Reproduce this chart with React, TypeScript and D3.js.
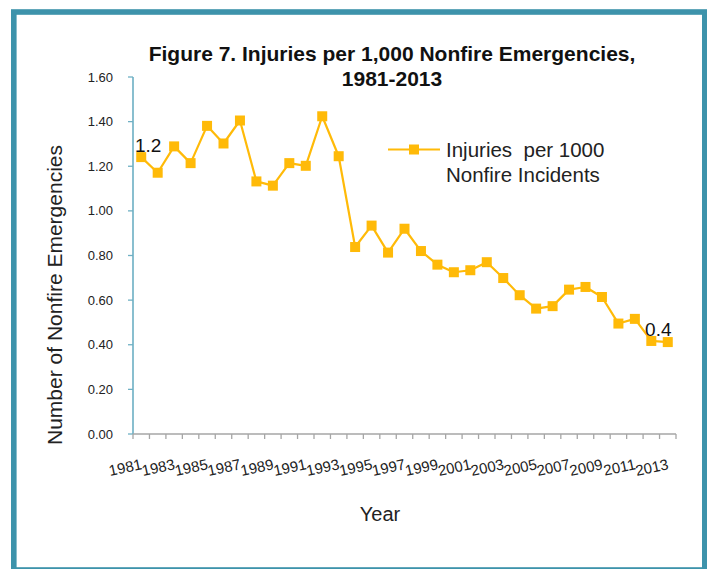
import React from "react";
import * as d3 from "d3";

const years: number[] = [
  1981, 1982, 1983, 1984, 1985, 1986, 1987, 1988, 1989, 1990, 1991, 1992, 1993,
  1994, 1995, 1996, 1997, 1998, 1999, 2000, 2001, 2002, 2003, 2004, 2005, 2006,
  2007, 2008, 2009, 2010, 2011, 2012, 2013,
];
const injuries: number[] = [
  1.241, 1.171, 1.289, 1.214, 1.381, 1.302, 1.405, 1.132, 1.113, 1.214, 1.202,
  1.424, 1.245, 0.838, 0.934, 0.813, 0.92, 0.82, 0.759, 0.725, 0.734, 0.77,
  0.699, 0.622, 0.562, 0.573, 0.647, 0.659, 0.614, 0.495, 0.516, 0.417, 0.412,
];
const yTicks: number[] = [0, 0.2, 0.4, 0.6, 0.8, 1.0, 1.2, 1.4, 1.6];
const labeledYears: number[] = [
  1981, 1983, 1985, 1987, 1989, 1991, 1993, 1995, 1997, 1999, 2001, 2003, 2005,
  2007, 2009, 2011, 2013,
];
const dataLabels: { year: number; text: string }[] = [
  { year: 1981, text: "1.2" },
  { year: 2012, text: "0.4" },
];
const titleLines = ["Figure 7. Injuries per 1,000 Nonfire Emergencies,", "1981-2013"];
const legendLines = ["Injuries  per 1000", "Nonfire Incidents"];

const FONT = "'Liberation Sans', Arial, sans-serif";
const GOLD = "#FFBA08";
const TEAL = "#3d93ab";

export default function App() {
  const W = 707;
  const H = 569;
  const left = 133;
  const right = 676;
  const top = 77;
  const bottom = 434;

  const x = d3.scaleBand<number>().domain(years).range([left, right]);
  const y = d3.scaleLinear().domain([0, 1.6]).range([bottom, top]);
  const cx = (yr: number) => (x(yr) as number) + x.bandwidth() / 2;

  const line = d3
    .line<number>()
    .x((_, i) => cx(years[i]))
    .y((d) => y(d));

  const boundaries = years.map((yr) => x(yr) as number).concat([right]);
  const ms = 10;

  return (
    <svg
      width={W}
      height={H}
      style={{ position: "absolute", left: 0, top: 0, display: "block", background: "#fff" }}
      fontFamily={FONT}
    >
      <rect x={0} y={0} width={W} height={H} fill="#fff" />
      <rect x={13.8} y={12} width={691} height={558} fill="none" stroke={TEAL} strokeWidth={5.6} />

      {/* title */}
      {titleLines.map((t, i) => (
        <text
          key={i}
          x={392}
          y={61 + i * 25}
          textAnchor="middle"
          fontWeight="bold"
          fontSize={21}
          fill="#111"
        >
          {t}
        </text>
      ))}

      {/* y axis */}
      <line x1={left} x2={left} y1={top} y2={bottom} stroke="#4a9cb5" strokeWidth={1.3} />
      {yTicks.map((t) => (
        <g key={t}>
          <line x1={left - 5} x2={left} y1={y(t)} y2={y(t)} stroke="#6fb0c4" strokeWidth={1.3} />
          <text
            x={113}
            y={y(t)}
            dy="0.35em"
            textAnchor="end"
            fontSize={13}
            fill="#222"
          >
            {t.toFixed(2)}
          </text>
        </g>
      ))}

      {/* x axis */}
      <line x1={left} x2={right} y1={bottom} y2={bottom} stroke="#a6a6a6" strokeWidth={1.3} />
      {boundaries.map((bx, i) => (
        <line key={i} x1={bx} x2={bx} y1={bottom} y2={bottom + 5} stroke="#a6a6a6" strokeWidth={1.3} />
      ))}
      {labeledYears.map((yr) => (
        <text
          key={yr}
          transform={`translate(${cx(yr) + 1.5},${469}) rotate(-12)`}
          textAnchor="end"
          fontSize={15}
          fill="#222"
        >
          {yr}
        </text>
      ))}

      {/* axis titles */}
      <text
        transform={`translate(61.5,295) rotate(-90)`}
        textAnchor="middle"
        fontSize={21}
        fill="#222"
      >
        Number of Nonfire Emergencies
      </text>
      <text x={380} y={521} textAnchor="middle" fontSize={20} fill="#222">
        Year
      </text>

      {/* series */}
      <path d={line(injuries) || ""} fill="none" stroke={GOLD} strokeWidth={2.2} strokeLinejoin="round" />
      {injuries.map((v, i) => (
        <rect
          key={i}
          x={cx(years[i]) - ms / 2}
          y={y(v) - ms / 2}
          width={ms}
          height={ms}
          fill={GOLD}
        />
      ))}

      {/* data labels */}
      {dataLabels.map((dl) => {
        const i = years.indexOf(dl.year);
        return (
          <text
            key={dl.year}
            x={cx(dl.year) + 7}
            y={y(injuries[i]) - 5}
            textAnchor="middle"
            fontSize={19}
            fill="#111"
          >
            {dl.text}
          </text>
        );
      })}

      {/* legend */}
      <line x1={388} x2={440} y1={149.5} y2={149.5} stroke={GOLD} strokeWidth={2.2} />
      <rect x={414 - ms / 2} y={149.5 - ms / 2} width={ms} height={ms} fill={GOLD} />
      {legendLines.map((t, i) => (
        <text key={i} x={446} y={157 + i * 25} fontSize={20.5} fill="#222" style={{ whiteSpace: "pre" }}>
          {t}
        </text>
      ))}
    </svg>
  );
}
